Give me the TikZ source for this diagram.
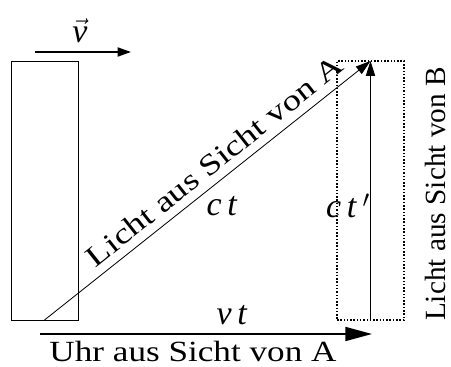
\documentclass[tikz,border=0pt]{standalone}
\usepackage{fontspec}
\setmainfont{Liberation Serif}
\newfontfamily\widefont{Liberation Serif}[FakeStretch=1.2]
\newfontfamily\slantfont{Liberation Serif}[FakeStretch=1.25]
\usetikzlibrary{arrows.meta,positioning}

\begin{document}
\begin{tikzpicture}[
    x=0.03cm, y=0.03cm,
    clock/.style={rectangle, draw, line width=0.8pt, inner sep=0pt, outer sep=0pt, anchor=south west, minimum width=2.01cm, minimum height=7.77cm},
    clockB/.style={clock, line width=1pt, dash pattern=on 1.3pt off 1.5pt},
    lbl/.style={font=\fontsize{25}{28}\selectfont, inner sep=1pt},
    widelbl/.style={font=\fontsize{25}{28}\selectfont\widefont, inner sep=1pt},
    slantlbl/.style={font=\fontsize{25}{28}\selectfont\slantfont, inner sep=1pt},
    symlbl/.style={font=\fontsize{29}{32}\selectfont, inner sep=1pt},
    light/.style={-{Triangle[length=0.45cm, width=0.28cm]}, line width=0.7pt},
    move/.style={-{Triangle[length=0.8cm, width=0.42cm]}, line width=1.5pt},
    speed/.style={-{Triangle[length=0.4cm, width=0.27cm]}, line width=1.5pt}
]
\useasboundingbox (0,0) rectangle (451,367);

% clocks
\node[clock] (uhrA) at (11,47) {};
\node[clockB] (uhrB) at (337,47) {};

% velocity
\coordinate (v0) at (35,315);
\coordinate (v1) at (131,315);
\draw[speed] (v0) -- (v1);
\node[symlbl] (vlabel) at (80,336) {$\vec{\hbox{\textit{v}}}$};

% light paths
\draw[light] (uhrA.south) -- (uhrB.north)
    node[slantlbl, sloped, above, pos=0.557, inner sep=7pt] (lichtA) {Licht aus Sicht von A};
\draw[light] (uhrB.south) -- (uhrB.north);
\node[symlbl] (ct) at (222,161) {\textit{c\,t}};
\node[symlbl] (ctB) at (348,161) {\textit{c\,t}\,$'$};

% displacement
\coordinate (s0) at (40,33);
\coordinate (s1) at (372,33);
\draw[move] (s0) -- (s1);
\node[symlbl] (vt) at (232,52) {\textit{v\,t}};

\node[widelbl, anchor=base] (uhrtext) at (193,5) {Uhr aus Sicht von A};
\node[lbl, rotate=90] (lichtB) at (435,173) {Licht aus Sicht von B};

\end{tikzpicture}
\end{document}
